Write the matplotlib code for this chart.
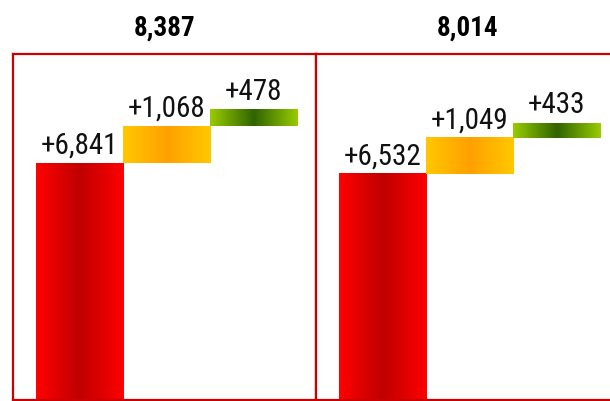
import numpy as np
import matplotlib
matplotlib.use("Agg")
import matplotlib.pyplot as plt
from matplotlib.colors import LinearSegmentedColormap

plt.rcParams['font.family'] = ['Roboto Condensed', 'Liberation Sans', 'DejaVu Sans']

# -------------------------
# DATA
# -------------------------
totals = [8387, 8014]
steps_a = [6841, 1068, 478]
steps_b = [6532, 1049, 433]
steps = [steps_a, steps_b]

# edge -> centre -> edge colour of each bar
bar_colors = [
    ("#ff0000", "#c00000"),
    ("#ffc800", "#ffa000"),
    ("#99cc00", "#2f6400"),
]

BORDER = "#cc0000"


def gradient_cmap(edge, centre):
    return LinearSegmentedColormap.from_list("g", [edge, centre, edge])


def draw_panel(ax, values, total):
    x = np.arange(len(values))
    bottoms = np.concatenate([[0], np.cumsum(values)[:-1]])
    bars = ax.bar(x, values, width=1.0, bottom=bottoms, color="none", edgecolor="none")

    grad = np.linspace(0, 1, 256).reshape(1, -1)
    for bar, (edge, centre), v in zip(bars, bar_colors, values):
        x0, y0 = bar.get_x(), bar.get_y()
        x1, y1 = x0 + bar.get_width(), y0 + bar.get_height()
        ax.imshow(grad, cmap=gradient_cmap(edge, centre), aspect="auto",
                  extent=(x0, x1, y0, y1), interpolation="bicubic", zorder=2)
        ax.annotate(f"+{v:,}", (x0 + bar.get_width() / 2, y1),
                    xytext=(0, 7.5), textcoords="offset points",
                    ha="center", va="baseline", fontsize=21, color="#111111")

    ax.set_xlim(-0.76, 2.72)
    ax.set_ylim(0, 10000)
    ax.set_xticks([])
    ax.set_yticks([])
    for s in ax.spines.values():
        s.set_color(BORDER)
        s.set_linewidth(1.6)
    ax.set_title(f"{total:,}", fontsize=19.5, fontweight="bold", pad=14)


# -------------------------
# PLOT
# -------------------------
fig = plt.figure(figsize=(6.1, 4.02), dpi=100)
w = 303 / 610
h = 346 / 402
ax1 = fig.add_axes([13 / 610, 1 / 402, w, h])
ax2 = fig.add_axes([316 / 610, 1 / 402, w, h])

for ax, vals, tot in zip([ax1, ax2], steps, totals):
    draw_panel(ax, vals, tot)

fig.savefig("out.png", dpi=100)
